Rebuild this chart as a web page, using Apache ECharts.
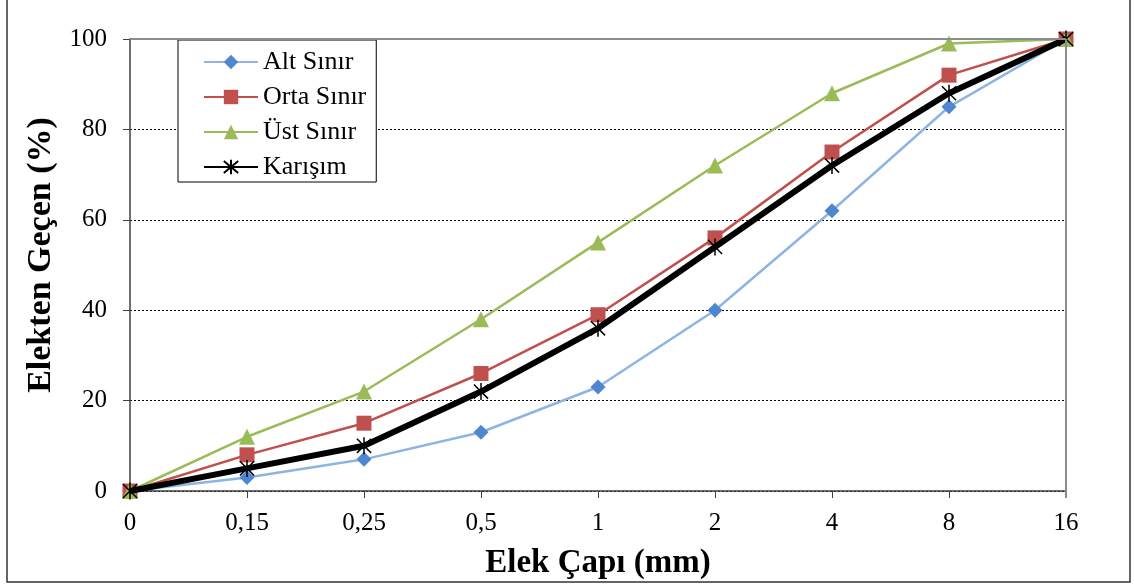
<!DOCTYPE html>
<html>
<head>
<meta charset="utf-8">
<script src="https://cdn.jsdelivr.net/npm/echarts@6/dist/echarts.min.js"></script>
<style>
html,body{margin:0;padding:0;background:#fff;}
#c{width:1134px;height:588px;}
</style>
</head>
<body>
<div id="c"></div>
<script>
const categories = ['0', '0,15', '0,25', '0,5', '1', '2', '4', '8', '16'];
const altSinir = [0, 3, 7, 13, 23, 40, 62, 85, 100];
const ortaSinir = [0, 8, 15, 26, 39, 56, 75, 92, 100];
const ustSinir = [0, 12, 22, 38, 55, 72, 88, 99, 100];
const karisim = [0, 5, 10, 22, 36, 54, 72, 88, 100];
const yTicks = [0, 20, 40, 60, 80, 100];

const FONT = 'Liberation Serif, Times New Roman, serif';
const chart = echarts.init(document.getElementById('c'), null, {renderer: 'canvas'});
const starPath = 'path://M0,0L10,10M10,0L0,10M5,-1L5,11';

chart.setOption({
  animation: false,
  backgroundColor: '#fff',
  textStyle: {fontFamily: FONT},
  grid: {left: 130, right: 68, top: 39, bottom: 97, show: false},
  legend: {
    orient: 'vertical', left: 178, top: 40,
    backgroundColor: '#fff', borderColor: '#000', borderWidth: 1,
    padding: [9, 10, 2, 25],
    itemWidth: 54, itemHeight: 18, itemGap: 9,
    textStyle: {fontFamily: FONT, fontSize: 26, color: '#000'},
    data: ['Alt Sınır', 'Orta Sınır', 'Üst Sınır', 'Karışım']
  },
  xAxis: {
    type: 'category', data: categories, boundaryGap: false,
    axisLine: {lineStyle: {color: '#404040', width: 1.5}},
    axisTick: {show: true, length: 7, inside: false, lineStyle: {color: '#404040'}},
    axisLabel: {fontFamily: FONT, fontSize: 25, color: '#000', margin: 20},
    name: 'Elek Çapı (mm)', nameLocation: 'middle', nameGap: 56,
    nameTextStyle: {fontFamily: FONT, fontSize: 33, fontWeight: 'bold', color: '#000'}
  },
  yAxis: {
    type: 'value', min: 0, max: 100, interval: 20,
    axisLine: {show: true, lineStyle: {color: '#404040', width: 1.5}},
    axisTick: {show: true, length: 7, lineStyle: {color: '#404040'}},
    axisLabel: {fontFamily: FONT, fontSize: 25, color: '#000', margin: 23},
    splitLine: {show: true, lineStyle: {color: '#000', type: [2, 2], width: 1}},
    name: 'Elekten Geçen (%)', nameLocation: 'middle', nameGap: 70,
    nameTextStyle: {fontFamily: FONT, fontSize: 34, fontWeight: 'bold', color: '#000', padding: [0, 0, 0, 20]}
  },
  graphic: [
    {type: 'rect', z: -10, shape: {x: 7, y: -5, width: 1123, height: 587}, style: {fill: 'none', stroke: '#333', lineWidth: 1.5}},
    {type: 'line', z: 100, shape: {x1: 130, y1: 39, x2: 1066, y2: 39}, style: {stroke: '#8c8c8c', lineWidth: 2}},
    {type: 'line', z: 100, shape: {x1: 1066, y1: 39, x2: 1066, y2: 498}, style: {stroke: '#8c8c8c', lineWidth: 2}}
  ],
  series: [
    {
      name: 'Alt Sınır', type: 'line', data: altSinir, z: 10,
      symbol: 'diamond', symbolSize: 15,
      lineStyle: {color: '#8DB4E2', width: 2.5},
      itemStyle: {color: '#4F86D0'}
    },
    {
      name: 'Orta Sınır', type: 'line', data: ortaSinir, z: 11,
      symbol: 'rect', symbolSize: 15,
      lineStyle: {color: '#C0504D', width: 2.5},
      itemStyle: {color: '#C0504D'}
    },
    {
      name: 'Üst Sınır', type: 'line', data: ustSinir, z: 12,
      symbol: 'triangle', symbolSize: 16,
      lineStyle: {color: '#9BBB59', width: 2.5},
      itemStyle: {color: '#9BBB59'}
    },
    {
      name: 'Karışım', type: 'line', data: karisim, z: 13,
      symbol: starPath, symbolSize: 17, symbolKeepAspect: true,
      lineStyle: {color: '#000', width: 6},
      itemStyle: {color: 'rgba(0,0,0,0)', borderColor: '#000', borderWidth: 1.5}
    }
  ]
});
</script>
</body>
</html>
